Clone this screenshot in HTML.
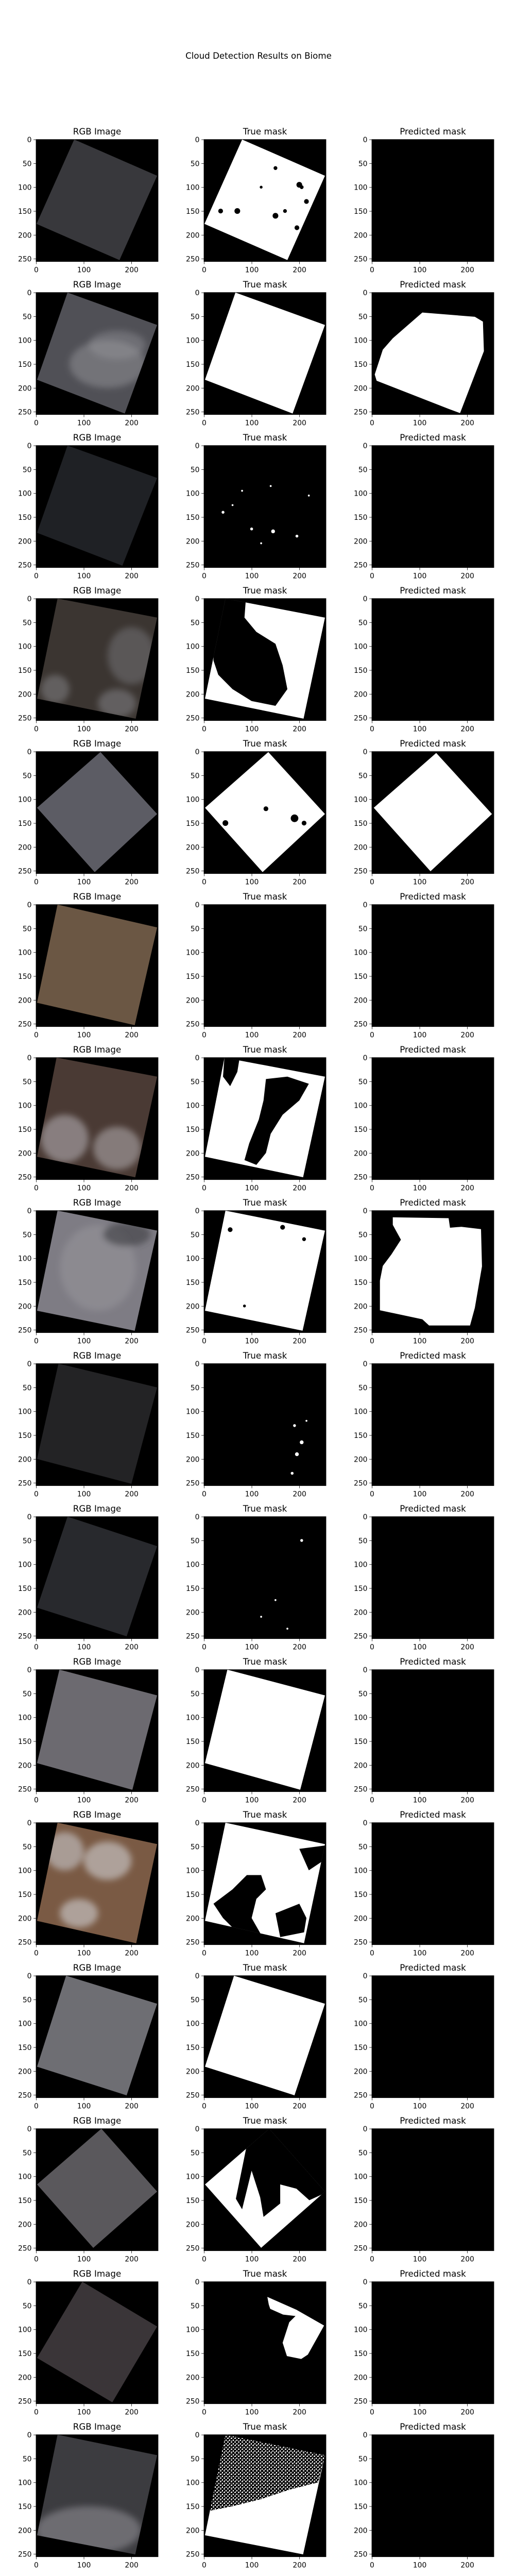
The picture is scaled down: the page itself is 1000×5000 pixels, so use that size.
<!DOCTYPE html>
<html><head><meta charset="utf-8">
<style>
html,body{margin:0;padding:0;background:#fff;}
svg{display:block;}
text{font-family:"DejaVu Sans","Liberation Sans",sans-serif;fill:#000;}
</style></head>
<body>
<svg id="fig" width="1000" height="5000" viewBox="0 0 1000 5000" xmlns="http://www.w3.org/2000/svg">
<defs>
<filter id="soft" x="-30%" y="-30%" width="160%" height="160%"><feGaussianBlur stdDeviation="6"/></filter>
<pattern id="speckW" width="7" height="7" patternUnits="userSpaceOnUse">
<rect width="7" height="7" fill="#000"/>
<rect x="0" y="0" width="3" height="2" fill="#fff"/>
<rect x="4" y="3" width="2" height="3" fill="#fff"/>
<rect x="1" y="5" width="2" height="1" fill="#fff"/>
</pattern>
</defs>
<text x="502" y="114" font-size="16.7" text-anchor="middle">Cloud Detection Results on Biome</text>
</svg>
<script>
// ---- data (image coordinates, 0..256) ----
const colTitles = ["RGB Image", "True mask", "Predicted mask"];
const tickValsY = [0, 50, 100, 150, 200, 250];
const tickValsX = [0, 100, 200];
const rgbQuads = [
 [[80,0],[254,76],[175,253],[1,177]],
 [[66,0],[254,68],[186,254],[2,183]],
 [[66,0],[254,68],[181,252],[2,183]],
 [[45,0],[254,40],[209,252],[2,210]],
 [[135,1],[254,131],[123,253],[2,118]],
 [[45,0],[254,48],[207,253],[2,206]],
 [[43,0],[254,40],[208,251],[2,208]],
 [[45,0],[254,42],[207,252],[2,210]],
 [[47,0],[254,50],[200,252],[2,200]],
 [[66,0],[254,62],[190,251],[2,191]],
 [[49,0],[254,54],[202,252],[2,196]],
 [[45,0],[254,45],[210,253],[2,206]],
 [[63,0],[254,59],[190,251],[2,191]],
 [[137,0],[254,132],[120,250],[2,117]],
 [[97,0],[254,94],[160,253],[2,160]],
 [[45,0],[254,43],[208,251],[2,211]]
];
const rgbColors = ["#38383c","#505056","#1f2125","#3b3531","#5c5c64","#6b5744","#4a3a34","#7e7c84","#232325","#28292d","#6c6a70","#7a5a44","#6e6e73","#5a585c","#3a3538","#3c3c40"];
// cloud patches: [row, cx, cy, rx, ry, color, opacity]
const rgbPatches = [
 [1,150,150,80,50,"#8a8a90",0.6],[1,170,110,60,30,"#9a9aa0",0.4],
 [3,200,120,50,60,"#77777c",0.5],[3,40,190,30,30,"#8a8a8e",0.5],[3,170,220,40,30,"#8a8a90",0.5],
 [6,60,170,50,50,"#b0acb0",0.6],[6,170,190,50,45,"#c0bcc0",0.5],
 [7,130,120,80,90,"#9a989e",0.5],[7,190,50,50,25,"#3a3a40",0.6],
 [11,60,60,40,40,"#c8c8cc",0.6],[11,150,80,50,40,"#d0d0d4",0.6],[11,90,190,40,30,"#d0d0d4",0.6],
 [15,110,200,110,50,"#8e8c92",0.6]
];
const trueFull = [1,1,0,1,1,0,1,1,0,0,1,1,1,1,0,1];
// black holes inside true masks: [row, [[x,y],...]]
const trueHoles = [
 [3,[[45,0],[88,0],[85,40],[110,70],[150,95],[165,140],[175,190],[150,225],[100,215],[60,190],[30,160],[20,130],[20,115]]],
 [6,[[130,45],[175,40],[220,55],[200,90],[165,120],[140,160],[130,200],[110,225],[85,215],[95,180],[115,130],[125,90]]],
 [6,[[43,0],[75,0],[70,30],[55,60],[40,40]]],
 [11,[[20,170],[60,140],[90,110],[120,110],[130,140],[110,160],[100,200],[120,235],[60,220],[40,200]]],
 [11,[[150,190],[200,170],[215,200],[210,230],[160,240]]],
 [11,[[200,55],[254,48],[250,80],[220,100]]],
 [13,[[89,39],[137,0],[256,0],[256,134],[221,150],[194,126],[160,117],[160,157],[125,185],[118,144],[100,88],[80,169],[67,147]]]
];
// speckled (half cloud) regions in true masks: [row, [[x,y],...]]
const trueSpeckled = [
 [15,[[45,0],[254,43],[240,100],[180,115],[120,135],[60,150],[10,160]]]
];
// small black specks in true masks: [row, x, y, r]
const trueSpecks = [
 [0,150,60,4],[0,200,95,6],[0,215,130,5],[0,35,150,5],[0,70,150,6],[0,150,160,6],[0,170,150,4],[0,195,185,5],[0,205,100,4],[0,120,100,3],
 [4,130,120,5],[4,190,140,8],[4,210,150,5],[4,45,150,6],
 [7,55,40,5],[7,165,35,5],[7,210,60,4],[7,85,200,3]
];
// white specks in dark true masks: [row, x, y, r]
const whiteSpecks = [
 [2,80,95,2],[2,140,85,2],[2,40,140,3],[2,100,175,3],[2,145,180,4],[2,195,190,3],[2,120,205,2],[2,220,105,2],[2,60,125,2],
 [8,190,130,3],[8,205,165,4],[8,195,190,4],[8,185,230,3],[8,215,120,2],
 [9,205,50,3],[9,150,175,2],[9,120,210,2],[9,175,235,2]
];
const predPolys = [
 [1,[[44,96],[106,42],[216,51],[233,61],[235,123],[185,253],[161,244],[10,185],[6,172],[23,120]]],
 [4,[[135,3],[252,131],[123,251],[4,118]]],
 [7,[[44,14],[161,16],[164,36],[188,34],[229,39],[231,117],[216,204],[206,241],[120,241],[106,228],[17,209],[17,147],[23,116],[41,92],[61,61],[44,30]]]
];
const truePartial = [
 [14,[[133,32],[194,59],[252,92],[218,153],[204,162],[174,156],[165,128],[179,85],[192,72],[166,69],[139,57],[136,48]]]
];

// ---- layout ----
const NS = "http://www.w3.org/2000/svg";
const fig = document.getElementById("fig");
const colLeft = [70, 396, 722];
const rowTop0 = 270.7, rowPitch = 297.0, axSize = 237;
const sc = axSize / 256;
function px(c, v){ return colLeft[c] + v * sc; }
function py(r, v){ return rowTop0 + r * rowPitch + v * sc; }
function ptsStr(r, c, pts){ return pts.map(p => px(c,p[0]).toFixed(1)+","+py(r,p[1]).toFixed(1)).join(" "); }
function mk(tag, attrs, parent){ const e = document.createElementNS(NS, tag); for (const k in attrs) e.setAttribute(k, attrs[k]); (parent||fig).appendChild(e); return e; }

for (let r = 0; r < rgbQuads.length; r++) {
  for (let c = 0; c < 3; c++) {
    const g = mk("g", {});
    
    
    const bg = mk("rect", {x: colLeft[c], y: py(r,0), width: axSize, height: axSize, fill: "#000"}, g);
    
    
    const clipId = "clip" + r + "_" + c;
    const cp = mk("clipPath", {id: clipId}, g);
    mk("polygon", {points: ptsStr(r, c, rgbQuads[r])}, cp);
    if (c === 0) {
      const q = mk("polygon", {points: ptsStr(r, c, rgbQuads[r]), fill: rgbColors[r]}, g);
      
      
      const pg = mk("g", {"clip-path": "url(#" + clipId + ")"}, g);
      const fg = mk("g", {filter: "url(#soft)"}, pg);
      rgbPatches.filter(p => p[0] === r).forEach(p => {
        const e = mk("ellipse", {cx: px(c,p[1]), cy: py(r,p[2]), rx: p[3]*sc, ry: p[4]*sc, fill: p[5], opacity: p[6]}, fg);
        
        
      });
    } else if (c === 1) {
      const mg = mk("g", {"clip-path": "url(#" + clipId + ")"}, g);
      if (trueFull[r]) {
        const q = mk("polygon", {points: ptsStr(r, c, rgbQuads[r]), fill: "#fff"}, mg);
        
        
      }
      truePartial.filter(p => p[0] === r).forEach(p => {
        const e = mk("polygon", {points: ptsStr(r, c, p[1]), fill: "#fff"}, g);
        
        
      });
      trueHoles.filter(p => p[0] === r).forEach(p => {
        const e = mk("polygon", {points: ptsStr(r, c, p[1]), fill: "#000"}, mg);
        
        
      });
      trueSpeckled.filter(p => p[0] === r).forEach(p => {
        const e = mk("polygon", {points: ptsStr(r, c, p[1]), fill: "url(#speckW)"}, mg);
        
        
      });
      trueSpecks.filter(p => p[0] === r).forEach(p => {
        const e = mk("circle", {cx: px(c,p[1]), cy: py(r,p[2]), r: p[3]*sc, fill: "#000"}, mg);
        
        
      });
      whiteSpecks.filter(p => p[0] === r).forEach(p => {
        const e = mk("circle", {cx: px(c,p[1]), cy: py(r,p[2]), r: p[3]*sc, fill: "#fff"}, g);
        
        
      });
    } else {
      predPolys.filter(p => p[0] === r).forEach(p => {
        const e = mk("polygon", {points: ptsStr(r, c, p[1]), fill: "#fff"}, g);
        
        
      });
    }
    const fr = mk("rect", {x: colLeft[c], y: py(r,0), width: axSize, height: axSize, fill: "none", stroke: "#000", "stroke-width": 0.8}, g);
    
    
    const t = mk("text", {x: colLeft[c] + axSize/2, y: py(r,0) - 9.5, "font-size": 16.7, "text-anchor": "middle"}, g);
    t.textContent = colTitles[c];
    
    
    tickValsY.forEach(v => {
      const y = py(r, v + 0.5);
      mk("line", {x1: colLeft[c]-4.9, x2: colLeft[c], y1: y, y2: y, stroke: "#000", "stroke-width": 0.8}, g);
      const lt = mk("text", {x: colLeft[c]-8.5, y: y + 5, "font-size": 13.9, "text-anchor": "end"}, g);
      lt.textContent = v;
      
      
    });
    tickValsX.forEach(v => {
      const x = px(c, v + 0.5), yb = py(r, 256);
      mk("line", {x1: x, x2: x, y1: yb, y2: yb + 4.9, stroke: "#000", "stroke-width": 0.8}, g);
      const lt = mk("text", {x: x, y: yb + 21, "font-size": 13.9, "text-anchor": "middle"}, g);
      lt.textContent = v;
      
      
    });
  }
}
</script>
</body></html>
